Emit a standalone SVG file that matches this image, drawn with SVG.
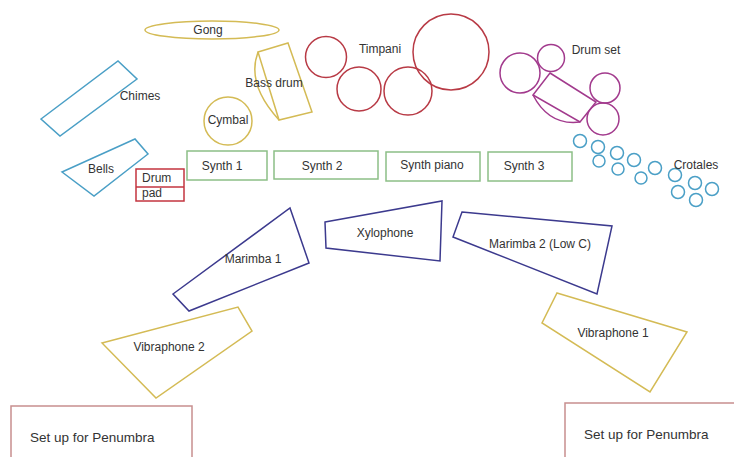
<svg xmlns="http://www.w3.org/2000/svg" width="734" height="457" viewBox="0 0 734 457">
<style>
text{font-family:"Liberation Sans",Arial,sans-serif;font-size:12px;fill:#333;}
.c{text-anchor:middle;}
.s{fill:none;stroke-width:1.5;}
.blue{stroke:#4a9fc6;}
.red{stroke:#b83a45;}
.pad{stroke:#c3343f;}
.gold{stroke:#d4bb55;}
.green{stroke:#8cbf86;}
.purple{stroke:#a23a8d;}
.navy{stroke:#3c3a8e;}
.pen{stroke:#c78f8f;}
.big{font-size:13.5px;}
</style>
<rect width="734" height="457" fill="#fff"/>
<g id="gong"><ellipse class="s gold" cx="212" cy="30" rx="67" ry="9"/><text class="c" x="208" y="34">Gong</text></g>
<g id="chimes"><polygon class="s blue" points="41,119 118,61 137,79 60,136"/><text class="c" x="140" y="100">Chimes</text></g>
<g id="bells"><polygon class="s blue" points="62,172 135,139 148,154 94,196"/><text class="c" x="101" y="173">Bells</text></g>
<g id="drum-pad"><rect class="s pad" x="136" y="169" width="48" height="32"/><line class="s pad" x1="136" y1="187" x2="184" y2="187"/><text x="142" y="182">Drum</text><text x="142" y="197">pad</text></g>
<g id="cymbal"><circle class="s gold" cx="228" cy="121" r="24"/><text class="c" x="228" y="124">Cymbal</text></g>
<g id="bass-drum"><polygon class="s gold" points="258,52 288,43 312,112 279,120"/><path class="s gold" d="M258,52 Q246,84 279,120"/><text class="c" x="274" y="87">Bass drum</text></g>
<g id="timpani"><circle class="s red" cx="326" cy="57" r="20.5"/><circle class="s red" cx="359" cy="89" r="22"/><circle class="s red" cx="408" cy="91" r="24"/><circle class="s red" cx="451" cy="52" r="38"/><text class="c" x="380" y="53">Timpani</text></g>
<g id="drum-set"><circle class="s purple" cx="520" cy="73" r="20"/><circle class="s purple" cx="551" cy="58" r="13.5"/><circle class="s purple" cx="605" cy="88" r="15"/><circle class="s purple" cx="603" cy="119" r="16"/><polygon class="s purple" points="550,73 596,102 580,122 533,95"/><path class="s purple" d="M533,95 Q549,126 580,122"/><text class="c" x="596" y="54">Drum set</text></g>
<g id="synth-1"><rect class="s green" x="187" y="151" width="80" height="29"/><text class="c" x="222" y="170">Synth 1</text></g>
<g id="synth-2"><rect class="s green" x="274" y="151" width="104" height="28"/><text class="c" x="322" y="170">Synth 2</text></g>
<g id="synth-piano"><rect class="s green" x="386" y="152" width="94" height="29"/><text class="c" x="432" y="169">Synth piano</text></g>
<g id="synth-3"><rect class="s green" x="488" y="152" width="84" height="29"/><text class="c" x="524" y="170">Synth 3</text></g>
<g id="crotales">
<circle class="s blue" cx="580" cy="141" r="6.5"/><circle class="s blue" cx="598" cy="147" r="6.5"/><circle class="s blue" cx="617" cy="153" r="6.5"/><circle class="s blue" cx="634" cy="160" r="6.5"/><circle class="s blue" cx="655" cy="168" r="6.5"/><circle class="s blue" cx="675" cy="175" r="6.5"/><circle class="s blue" cx="695" cy="183" r="6.5"/><circle class="s blue" cx="712" cy="189" r="6.5"/><circle class="s blue" cx="599" cy="161" r="6"/><circle class="s blue" cx="618" cy="169" r="6"/><circle class="s blue" cx="641" cy="178" r="6"/><circle class="s blue" cx="678" cy="192" r="6.5"/><circle class="s blue" cx="696" cy="200" r="6.5"/>
<text class="c" x="696" y="169">Crotales</text></g>
<g id="marimba-1"><polygon class="s navy" points="173,294 290,208 309,263 189,311"/><text class="c" x="253" y="263">Marimba 1</text></g>
<g id="xylophone"><polygon class="s navy" points="325,222 442,201 440,261 326,248"/><text class="c" x="385" y="237">Xylophone</text></g>
<g id="marimba-2"><polygon class="s navy" points="462,212 612,226 597,294 453,237"/><text class="c" x="540" y="248">Marimba 2 (Low C)</text></g>
<g id="vibraphone-2"><polygon class="s gold" points="102,343 238,307 252,331 156,398"/><text class="c" x="169" y="351">Vibraphone 2</text></g>
<g id="vibraphone-1"><polygon class="s gold" points="557,293 687,332 650,392 542,323"/><text class="c" x="613" y="337">Vibraphone 1</text></g>
<g id="setup-left"><rect class="s pen" x="11" y="406" width="181" height="60"/><text class="big" x="30" y="442">Set up for Penumbra</text></g>
<g id="setup-right"><rect class="s pen" x="565" y="403" width="190" height="60"/><text class="big" x="584" y="439">Set up for Penumbra</text></g>
</svg>
